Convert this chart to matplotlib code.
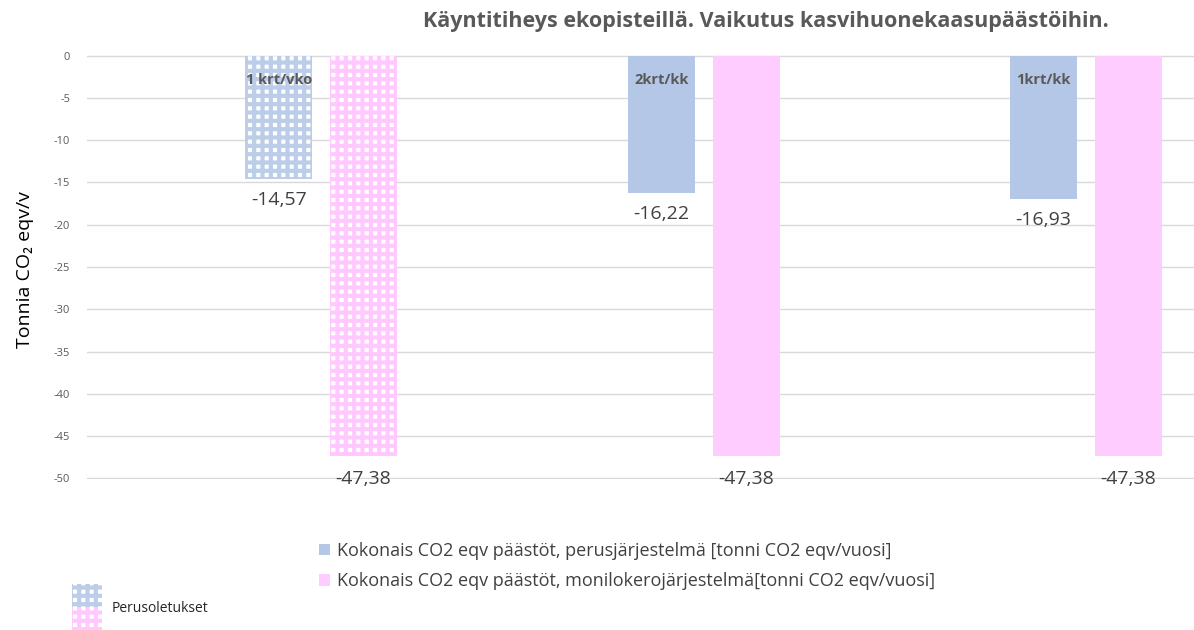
import matplotlib
matplotlib.use("Agg")
import matplotlib.pyplot as plt
from matplotlib.patches import Rectangle, Patch
import numpy as np

plt.rcParams['font.family'] = ['Open Sans', 'DejaVu Sans']
plt.rcParams['hatch.linewidth'] = 3.0

categories = ["1 krt/vko", "2krt/kk", "1krt/kk"]
basic = [-14.57, -16.22, -16.93]
multi = [-47.38, -47.38, -47.38]
basic_labels = ["-14,57", "-16,22", "-16,93"]
multi_labels = ["-47,38", "-47,38", "-47,38"]
yticks = [0, -5, -10, -15, -20, -25, -30, -35, -40, -45, -50]
series_names = ["Kokonais CO2 eqv päästöt, perusjärjestelmä [tonni CO2 eqv/vuosi]",
                "Kokonais CO2 eqv päästöt, monilokerojärjestelmä[tonni CO2 eqv/vuosi]"]
title = "Käyntitiheys ekopisteillä. Vaikutus kasvihuonekaasupäästöihin."
ylabel = "Tonnia CO₂ eqv/v"
hatch_note = "Perusoletukset"

BLUE = "#b4c7e7"
PINK = "#ffccff"
BLUE_H = (0.62, 0.72, 0.88, 0.7)
PINK_H = (1.0, 0.72, 1.0, 0.75)
GRAY = "#595959"

W, H = 1194, 630
fig = plt.figure(figsize=(W / 100, H / 100), dpi=100)
ax = fig.add_axes([87 / W, 1 - 479 / H, (1194 - 87) / W, (479 - 55) / H])

x = np.arange(len(categories))
bw = 0.175
off = 0.111

for i in range(len(categories)):
    if i == 0:
        ax.bar(x[i] - off, basic[i], bw, color="white", edgecolor=BLUE_H, hatch='++', linewidth=0, zorder=2)
        ax.bar(x[i] + off, multi[i], bw, color="white", edgecolor=PINK_H, hatch='++', linewidth=0, zorder=2)
    else:
        ax.bar(x[i] - off, basic[i], bw, color=BLUE, linewidth=0, zorder=2)
        ax.bar(x[i] + off, multi[i], bw, color=PINK, linewidth=0, zorder=2)
    ax.text(x[i] - off, -2.9, categories[i], ha='center', va='center', fontsize=10.5,
            fontweight='bold', color=GRAY, zorder=3)
    ax.annotate(basic_labels[i], (x[i] - off, basic[i]), xytext=(0, -15), textcoords='offset points',
                ha='center', va='center', fontsize=14, color="#404040", zorder=3)
    ax.annotate(multi_labels[i], (x[i] + off, multi[i]), xytext=(0, -16), textcoords='offset points',
                ha='center', va='center', fontsize=14, color="#404040", zorder=3)

ax.set_ylim(-50.06, 0.06)
ax.set_xlim(-0.612, 2.282)
ax.set_yticks(yticks)
ax.set_yticklabels([str(t) for t in yticks], fontsize=8, color=GRAY)
ax.tick_params(axis='y', length=0, pad=12)
ax.set_xticks([])
ax.grid(axis='y', color="#d9d9d9", linewidth=1, zorder=0)
for s in ax.spines.values():
    s.set_visible(False)

fig.text(25 / W, 1 - 270 / H, ylabel, rotation=90, ha='center', va='center', fontsize=14, color="black")
fig.text(766 / W, 1 - 22 / H, title, ha='center', va='center', fontsize=15.5, fontweight='bold', color=GRAY)

handles = [Patch(facecolor=BLUE, edgecolor='none'), Patch(facecolor=PINK, edgecolor='none')]
leg = fig.legend(handles, series_names, loc='center left', bbox_to_anchor=(303 / W, 1 - 566 / H),
                 frameon=False, fontsize=13, handlelength=0.6, handleheight=0.6, handletextpad=0.4,
                 labelspacing=0.7, labelcolor="#404040")

# small hatched key
r1 = Rectangle((72 / W, 1 - 607 / H), 30 / W, 23 / H, transform=fig.transFigure,
               facecolor="white", edgecolor=BLUE_H, hatch='++', linewidth=0)
r2 = Rectangle((72 / W, 1 - 630 / H), 30 / W, 23 / H, transform=fig.transFigure,
               facecolor="white", edgecolor=PINK_H, hatch='++', linewidth=0)
fig.add_artist(r1)
fig.add_artist(r2)
fig.text(112 / W, 1 - 609 / H, hatch_note, ha='left', va='center', fontsize=10, color="#262626")

fig.savefig("out.png", dpi=100)
